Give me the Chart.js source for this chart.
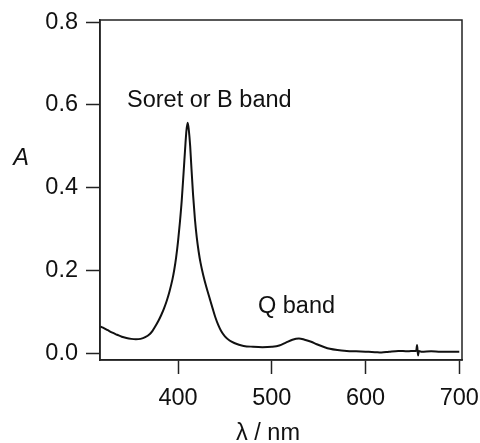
<!DOCTYPE html>
<html>
<head>
<meta charset="utf-8">
<title>Absorption spectrum</title>
<script src="https://cdn.jsdelivr.net/npm/chart.js@4.4.1/dist/chart.umd.min.js"></script>
<style>
    html, body { margin: 0; padding: 0; background: #fff; }
    canvas { display: block; }
</style>
</head>
<body>
<canvas id="spectrum" width="480" height="443"></canvas>
<script>
// Wavelength (nm) and absorbance
const wavelengths = [
    317, 320, 325, 330, 335, 340, 345, 350, 355, 360,
    365, 370, 373, 376, 379, 382, 385, 388, 391, 394,
    396, 398, 400, 402, 404, 406, 408, 409, 410.3, 411.5,
    413, 414, 416, 418, 420, 422, 424, 427, 430, 434,
    437, 440, 443, 446, 450, 455, 460, 465, 470, 480,
    490, 500, 508, 515, 522, 529, 535, 542, 548, 555,
    562, 570, 580, 590, 600, 610, 617, 625, 635, 645,
    652, 654, 655, 656, 657, 660, 670, 680, 690, 700
];
const absorbance = [
    0.065, 0.062, 0.056, 0.050, 0.045, 0.040, 0.037, 0.035, 0.034, 0.035,
    0.039, 0.047, 0.055, 0.066, 0.078, 0.092, 0.108, 0.127, 0.150, 0.178,
    0.202, 0.232, 0.270, 0.316, 0.370, 0.438, 0.508, 0.538, 0.557, 0.540,
    0.500, 0.460, 0.385, 0.325, 0.280, 0.246, 0.219, 0.188, 0.162, 0.131,
    0.108, 0.086, 0.068, 0.054, 0.041, 0.031, 0.025, 0.021, 0.018, 0.016,
    0.015, 0.016, 0.019, 0.026, 0.033, 0.036, 0.033, 0.028, 0.022, 0.016,
    0.011, 0.008, 0.006, 0.005, 0.004, 0.003, 0.002, 0.004, 0.006, 0.005,
    0.006, 0.006, 0.020, -0.005, 0.006, 0.004, 0.005, 0.004, 0.004, 0.004
];

const xTicks = [400, 500, 600, 700];
const yTicks = [0.0, 0.2, 0.4, 0.6, 0.8];

const bandLabels = ['Soret or B band', 'Q band'];
const FONT = "'Liberation Sans', Arial, Helvetica, sans-serif";
const INK = '#222';

// frame round the plot, band names and the two axis titles
const decorations = {
    id: 'decorations',
    afterDraw(chart) {
        const { ctx, chartArea, scales } = chart;
        ctx.save();
        ctx.strokeStyle = INK;
        ctx.lineWidth = 1.5;
        ctx.strokeRect(chartArea.left, chartArea.top,
            chartArea.right - chartArea.left, chartArea.bottom - chartArea.top);

        ctx.fillStyle = '#111';
        ctx.font = `23.5px ${FONT}`;
        ctx.textBaseline = 'alphabetic';
        ctx.textAlign = 'left';
        ctx.fillText(bandLabels[0], scales.x.getPixelForValue(345.6), scales.y.getPixelForValue(0.595));
        ctx.fillText(bandLabels[1], scales.x.getPixelForValue(485.3), scales.y.getPixelForValue(0.097));

        ctx.textAlign = 'center';
        ctx.textBaseline = 'middle';
        ctx.fillText('λ / nm', 268, 434);
        ctx.font = `italic 23.5px ${FONT}`;
        ctx.fillText('A', 21, 158);
        ctx.restore();
    }
};

new Chart(document.getElementById('spectrum'), {
    type: 'line',
    data: {
        datasets: [{
            data: wavelengths.map((w, i) => ({ x: w, y: absorbance[i] })),
            borderColor: '#111',
            borderWidth: 2,
            pointRadius: 0,
            fill: false,
            cubicInterpolationMode: 'monotone'
        }]
    },
    options: {
        responsive: false,
        animation: false,
        layout: { padding: { left: 0, right: 18, top: 20, bottom: 0 } },
        plugins: {
            legend: { display: false },
            tooltip: { enabled: false }
        },
        scales: {
            x: {
                type: 'linear',
                min: 316.8,
                max: 702.9,
                afterFit: s => {
                    s.height = 83;
                    s.paddingLeft = 0;
                    s.paddingRight = 0;
                },
                afterBuildTicks: s => { s.ticks = xTicks.map(v => ({ value: v })); },
                border: { display: true, color: INK, width: 1.5 },
                grid: {
                    drawOnChartArea: false,
                    drawTicks: true,
                    tickLength: 14,
                    tickColor: INK,
                    tickWidth: 1.5
                },
                ticks: {
                    padding: 10,
                    color: '#111',
                    font: { family: FONT, size: 23.5 },
                    maxRotation: 0
                }
            },
            y: {
                min: -0.016,
                max: 0.805,
                afterFit: s => {
                    s.width = 100;
                    s.paddingTop = 0;
                    s.paddingBottom = 0;
                },
                afterBuildTicks: s => { s.ticks = yTicks.map(v => ({ value: v })); },
                border: { display: true, color: INK, width: 1.5 },
                grid: {
                    drawOnChartArea: false,
                    drawTicks: true,
                    tickLength: 14,
                    tickColor: INK,
                    tickWidth: 1.5
                },
                ticks: {
                    padding: 8,
                    color: '#111',
                    font: { family: FONT, size: 23.5 },
                    callback: v => v.toFixed(1)
                }
            }
        }
    },
    plugins: [decorations]
});
</script>
</body>
</html>
